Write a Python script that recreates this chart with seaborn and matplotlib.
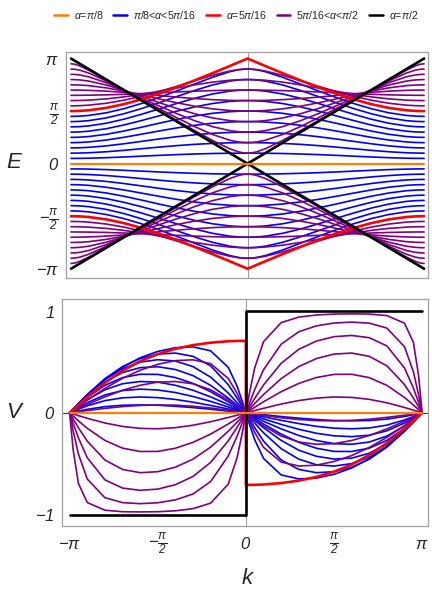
import matplotlib
matplotlib.use("Agg")
import matplotlib.pyplot as plt
from matplotlib.lines import Line2D
import numpy as np
import pandas as pd
import seaborn as sns

# ---------------- data (k and E in units of pi) -------------
# sample points of k/pi on [0, 1]; curves are mirrored to [-1, 0]
K_HALF = [0, 0.02, 0.05, 0.1, 0.2, 0.3, 0.4, 0.5, 0.6, 0.7, 0.8, 0.9, 0.95, 0.98, 1.0]

# upper band E/pi, pi/8 < alpha < 5pi/16 (blue)
E_BLUE = [
    [.1, .1, .0998, .0991, .0963, .0919, .086, .079, .0713, .0635, .0567, .0518, .0505, .0501, .05],
    [.2, .1999, .1995, .1981, .1925, .1836, .1717, .1575, .1421, .1267, .1131, .1035, .1009, .1001, .1],
    [.3, .2999, .2993, .2971, .2885, .2747, .2565, .2351, .212, .1892, .1692, .1551, .1513, .1502, .15],
    [.4, .3998, .399, .3959, .3839, .3648, .34, .3112, .2805, .2505, .2246, .2065, .2017, .2003, .2],
    [.5, .4998, .4986, .4945, .4785, .4534, .4214, .385, .3468, .3103, .2791, .2577, .252, .2503, .25],
    [.6, .5997, .5982, .5927, .5717, .5396, .4997, .4555, .4103, .368, .3325, .3086, .3022, .3004, .3],
    [.7, .6996, .6975, .6901, .6624, .6217, .5732, .5213, .47, .4231, .3847, .359, .3523, .3504, .35],
    [.8, .7994, .7963, .7856, .7478, .6964, .6389, .5804, .5246, .475, .4352, .4091, .4023, .4004, .4],
    [.9, .8989, .8932, .8751, .8206, .7572, .6924, .6301, .5726, .5229, .4839, .4587, .4522, .4504, .45],
]
# alpha = 5pi/16 (red)
E_RED = [1.0, .9859, .9647, .9294, .8598, .792, .7271, .6667, .6123, .5661, .5304, .5078, .502, .5003, .5]
# 5pi/16 < alpha < pi/2 (purple)
E_PURPLE = [
    [.9, .8992, .8951, .8816, .8393, .7885, .7365, .6868, .6418, .6038, .5746, .5563, .5516, .5503, .55],
    [.8, .7997, .7983, .7935, .7754, .7495, .7195, .6888, .66, .6352, .6161, .6041, .601, .6002, .6],
    [.7, .7, .6997, .6987, .695, .6893, .6822, .6744, .6668, .6599, .6546, .6512, .6503, .65, .65],
    [.6, .6001, .6006, .6023, .6089, .6194, .6328, .648, .6635, .6779, .6897, .6973, .6993, .6999, .7],
    [.5, .5002, .5014, .5055, .5215, .5466, .5786, .615, .6532, .6897, .7209, .7423, .748, .7497, .75],
    [.4, .4004, .4023, .4091, .4352, .475, .5246, .5804, .6389, .6964, .7478, .7856, .7963, .7994, .8],
    [.3, .3006, .3036, .314, .3526, .4087, .4755, .5484, .6241, .6994, .7699, .8263, .8437, .849, .85],
    [.2, .2009, .2058, .2223, .2785, .3528, .4356, .5226, .6114, .7002, .7863, .8624, .8894, .8982, .9],
    [.1, .1019, .1116, .1409, .2223, .3141, .4093, .5058, .603, .7001, .7965, .8894, .9298, .9463, .95],
]
# alpha = pi/2 (black) and alpha = pi/8 (orange)
K_BLACK = [-1, 0, 1]
E_BLACK = [1, 0, 1]
K_ORANGE = [-1, 1]
E_ORANGE = [0, 0]

# group velocity V on k in [0, pi] (odd in k)
V_BLUE = [
    [0, -.004, -.009, -.018, -.036, -.052, -.065, -.075, -.078, -.075, -.061, -.035, -.018, -.007, 0],
    [0, -.008, -.019, -.038, -.073, -.105, -.132, -.150, -.156, -.148, -.120, -.069, -.036, -.014, 0],
    [0, -.012, -.029, -.058, -.113, -.161, -.200, -.225, -.233, -.219, -.176, -.100, -.052, -.021, 0],
    [0, -.017, -.041, -.082, -.157, -.222, -.271, -.302, -.308, -.286, -.227, -.128, -.066, -.027, 0],
    [0, -.022, -.055, -.109, -.208, -.289, -.347, -.378, -.379, -.346, -.270, -.151, -.078, -.031, 0],
    [0, -.030, -.074, -.145, -.270, -.366, -.426, -.453, -.444, -.396, -.305, -.168, -.086, -.035, 0],
    [0, -.040, -.100, -.195, -.351, -.454, -.509, -.522, -.498, -.434, -.327, -.178, -.091, -.037, 0],
    [0, -.060, -.146, -.277, -.462, -.555, -.587, -.577, -.533, -.454, -.336, -.180, -.092, -.037, 0],
    [0, -.111, -.263, -.447, -.609, -.648, -.640, -.603, -.541, -.449, -.326, -.173, -.088, -.035, 0],
]
V_RED = [-.707, -.707, -.706, -.703, -.689, -.665, -.629, -.577, -.507, -.413, -.295, -.155, -.078, -.031, 0]
V_PURPLE = [
    [0, -.080, -.192, -.338, -.483, -.521, -.513, -.477, -.419, -.339, -.240, -.125, -.063, -.025, 0],
    [0, -.027, -.066, -.128, -.227, -.286, -.308, -.302, -.271, -.222, -.157, -.082, -.041, -.017, 0],
    [0, -.005, -.013, -.025, -.048, -.065, -.076, -.078, -.073, -.062, -.044, -.023, -.012, -.005, 0],
    [0, .009, .023, .045, .087, .121, .145, .156, .152, .133, .099, .053, .027, .011, 0],
    [0, .022, .055, .109, .208, .289, .347, .378, .379, .346, .270, .151, .078, .031, 0],
    [0, .037, .092, .180, .336, .454, .533, .577, .587, .555, .462, .277, .146, .060, 0],
    [0, .057, .142, .274, .486, .624, .705, .748, .760, .738, .657, .440, .245, .102, 0],
    [0, .094, .229, .423, .674, .796, .854, .882, .891, .881, .832, .649, .404, .176, 0],
    [0, .193, .441, .699, .886, .940, .961, .970, .972, .970, .955, .880, .693, .362, 0],
]
K_VBLACK = [-1, 0, 0, 1]
V_BLACK = [-1, -1, 1, 1]
V_ORANGE = [0, 0]

LEGEND_LABELS = [r"$\alpha$=$\pi$/8", r"$\pi$/8<$\alpha$<5$\pi$/16", r"$\alpha$=5$\pi$/16",
                 r"5$\pi$/16<$\alpha$<$\pi$/2", r"$\alpha$=$\pi$/2"]
COLORS = {"orange": "#FF8000", "blue": "#0000FF", "red": "#FF0000",
          "purple": "#800080", "black": "#000000"}

# ---------------- style --------------------------------------------------------------
sns.set_style("white")
plt.rcParams["font.family"] = ["Liberation Sans", "DejaVu Sans"]
plt.rcParams["mathtext.fontset"] = "custom"
plt.rcParams["mathtext.rm"] = "Liberation Sans:italic"
plt.rcParams["mathtext.it"] = "Liberation Sans:italic"
plt.rcParams["mathtext.sf"] = "Liberation Sans:italic"

PI = np.pi
k_full = [-k for k in reversed(K_HALF)] + list(K_HALF)


def even(h):
    return list(reversed(h)) + list(h)


def odd(h):
    return [-v for v in reversed(h)] + list(h)


def line(ax, x, y, color, lw):
    sns.lineplot(x=np.asarray(x) * 1.0, y=np.asarray(y) * 1.0, ax=ax, color=color,
                 linewidth=lw, sort=False, estimator=None, legend=False)


fig = plt.figure(figsize=(4.32, 5.95), dpi=100)
axE = fig.add_axes([0.1521, 0.5333, 0.8386, 0.3798])
axV = fig.add_axes([0.1428, 0.1160, 0.8479, 0.3810])

kx = np.array(k_full) * PI

# ---- E panel
axE.axvline(0, color="#999999", lw=0.7, zorder=0)
for sgn in (1, -1):
    for e in E_BLUE:
        line(axE, kx, sgn * np.array(even(e)) * PI, COLORS["blue"], 1.2)
    for e in E_PURPLE:
        line(axE, kx, sgn * np.array(even(e)) * PI, COLORS["purple"], 1.2)
for sgn in (1, -1):
    line(axE, kx, sgn * np.array(even(E_RED)) * PI, COLORS["red"], 1.9)
    line(axE, np.array(K_BLACK) * PI, sgn * np.array(E_BLACK) * PI, COLORS["black"], 1.9)
line(axE, np.array(K_ORANGE) * PI, np.array(E_ORANGE) * PI, COLORS["orange"], 1.6)

# ---- V panel
axV.axvline(0, color="#999999", lw=0.7, zorder=0)
axV.axhline(0, color="#333333", lw=0.7, zorder=0)
for v in V_BLUE:
    line(axV, kx, odd(v), COLORS["blue"], 1.2)
for v in V_PURPLE:
    line(axV, kx, odd(v), COLORS["purple"], 1.2)
line(axV, kx, odd(V_RED), COLORS["red"], 1.9)
line(axV, np.array(K_VBLACK) * PI, V_BLACK, COLORS["black"], 1.9)
line(axV, np.array(K_ORANGE) * PI, V_ORANGE, COLORS["orange"], 1.6)

# ---- axes cosmetics
axE.set_xlim(-1.03 * PI, 1.022 * PI)
axE.set_ylim(-1.085 * PI, 1.065 * PI)
axV.set_xlim(-1.045 * PI, 1.033 * PI)
axV.set_ylim(-1.11, 1.115)

pi_ticks = [-PI, -PI / 2, 0, PI / 2, PI]
pi_labels = [r"$-\pi$", r"$-\frac{\pi}{2}$", r"$0$", r"$\frac{\pi}{2}$", r"$\pi$"]

axE.set_yticks(pi_ticks)
axE.set_yticklabels(pi_labels)
axE.set_xticks(pi_ticks)
axE.set_xticklabels([])
axE.tick_params(axis="x", length=0)

axV.set_yticks([-1, 0, 1])
axV.set_yticklabels([r"$-1$", r"$0$", r"$1$"])
axV.set_xticks(pi_ticks)
axV.set_xticklabels(pi_labels)

for ax in (axE, axV):
    ax.set_xlabel("")
    ax.set_ylabel("")
    for s in ax.spines.values():
        s.set_color("#a0a0a0")
        s.set_linewidth(0.9)
    ax.tick_params(axis="y", direction="out", length=3, width=0.7, color="#888888",
                   labelsize=12, pad=2)
    ax.grid(False)
axV.tick_params(axis="x", direction="in", length=3, width=0.7, color="#888888",
                labelsize=12, pad=13)
for lab in axV.get_xticklabels():
    lab.set_va("center")

fig.text(0.032, 1 - 163 / 595, "E", fontsize=16, fontstyle="italic", ha="center", va="center")
fig.text(0.032, 1 - 413 / 595, "V", fontsize=16, fontstyle="italic", ha="center", va="center")
fig.text(247 / 432, 1 - 578 / 595, "k", fontsize=16, fontstyle="italic", ha="center", va="center")

handles = [Line2D([], [], color=COLORS[c], lw=1.8)
           for c in ("orange", "blue", "red", "purple", "black")]
fig.legend(handles, LEGEND_LABELS, loc="center", bbox_to_anchor=(0.547, 1 - 15 / 595),
           ncol=5, frameon=False, fontsize=7.6, handlelength=1.3, handletextpad=0.55,
           columnspacing=0.95, borderaxespad=0)

fig.savefig("out.png", dpi=100)
